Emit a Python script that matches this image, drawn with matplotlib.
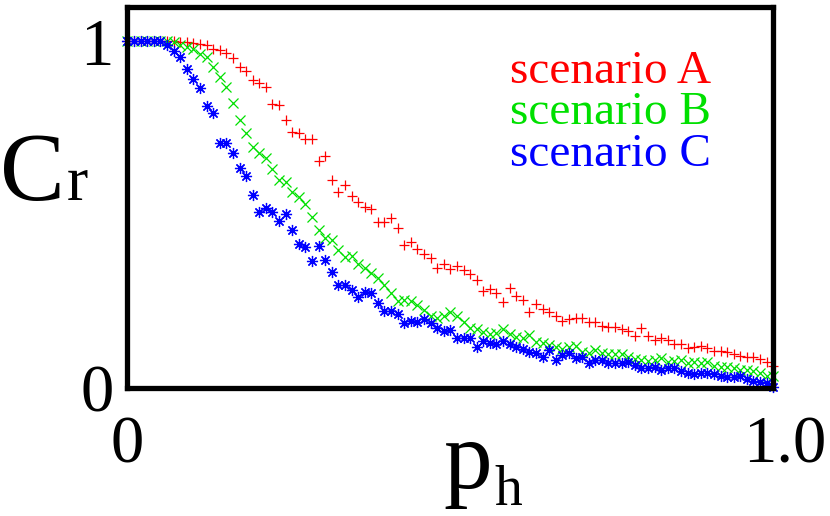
import numpy as np
import matplotlib
matplotlib.use("Agg")
import matplotlib.pyplot as plt
from matplotlib.transforms import ScaledTranslation

plt.rcParams['font.family'] = ['Liberation Serif', 'DejaVu Serif']

# values, p_h from 0 to 1
cr_a = [1.0, 1.0, 1.0, 1.0, 1.0, 1.0, 1.0, 1.0, 0.998, 0.997,
        0.995, 0.992, 0.990, 0.978, 0.975, 0.966, 0.952, 0.925, 0.913, 0.887,
        0.880, 0.869, 0.820, 0.815, 0.774, 0.739, 0.735, 0.719, 0.719, 0.653,
        0.668, 0.600, 0.566, 0.586, 0.553, 0.536, 0.522, 0.515, 0.477, 0.477,
        0.490, 0.461, 0.412, 0.420, 0.400, 0.386, 0.373, 0.344, 0.358, 0.343,
        0.350, 0.340, 0.329, 0.311, 0.278, 0.286, 0.272, 0.247, 0.288, 0.265,
        0.254, 0.217, 0.240, 0.228, 0.217, 0.206, 0.192, 0.199, 0.200, 0.202,
        0.188, 0.188, 0.177, 0.175, 0.175, 0.170, 0.164, 0.148, 0.171, 0.148,
        0.136, 0.142, 0.137, 0.125, 0.126, 0.113, 0.116, 0.121, 0.113, 0.105,
        0.105, 0.103, 0.097, 0.091, 0.087, 0.089, 0.081, 0.073, 0.062]

cr_b = [1.0, 1.0, 1.0, 1.0, 1.0, 1.0, 1.0, 0.997, 0.988, 0.983,
        0.978, 0.964, 0.954, 0.925, 0.898, 0.869, 0.822, 0.774, 0.736, 0.694,
        0.678, 0.664, 0.631, 0.598, 0.593, 0.565, 0.549, 0.531, 0.493, 0.456,
        0.433, 0.425, 0.398, 0.377, 0.380, 0.358, 0.345, 0.331, 0.315, 0.296,
        0.273, 0.250, 0.252, 0.249, 0.237, 0.224, 0.207, 0.202, 0.208, 0.219,
        0.208, 0.190, 0.171, 0.168, 0.161, 0.156, 0.158, 0.168, 0.156, 0.146,
        0.142, 0.151, 0.132, 0.129, 0.123, 0.118, 0.110, 0.118, 0.119, 0.104,
        0.101, 0.108, 0.099, 0.096, 0.097, 0.097, 0.087, 0.083, 0.080, 0.076,
        0.079, 0.084, 0.074, 0.076, 0.079, 0.072, 0.074, 0.070, 0.074, 0.062,
        0.058, 0.060, 0.055, 0.050, 0.050, 0.048, 0.043, 0.033, 0.033]

cr_c = [1.0, 1.0, 1.0, 1.0, 1.0, 1.0, 0.988, 0.973, 0.954, 0.920,
        0.892, 0.866, 0.812, 0.794, 0.706, 0.706, 0.677, 0.634, 0.611, 0.557,
        0.507, 0.518, 0.507, 0.480, 0.502, 0.454, 0.414, 0.406, 0.365, 0.409,
        0.368, 0.333, 0.295, 0.295, 0.281, 0.262, 0.276, 0.272, 0.245, 0.221,
        0.221, 0.211, 0.185, 0.193, 0.190, 0.199, 0.187, 0.172, 0.164, 0.166,
        0.144, 0.144, 0.142, 0.116, 0.134, 0.129, 0.125, 0.134, 0.127, 0.116,
        0.110, 0.103, 0.099, 0.089, 0.108, 0.079, 0.094, 0.101, 0.084, 0.087,
        0.072, 0.079, 0.079, 0.072, 0.072, 0.072, 0.074, 0.065, 0.057, 0.055,
        0.060, 0.052, 0.057, 0.055, 0.048, 0.043, 0.039, 0.043, 0.043, 0.039,
        0.033, 0.029, 0.031, 0.034, 0.026, 0.020, 0.017, 0.012, 0.002]

labels = ['scenario A', 'scenario B', 'scenario C']
colors = ['#ff0000', '#00e000', '#0000ff']
markers = ['+', 'x', (8, 2, 0)]
sizes = [7.5, 7, 8]

fig = plt.figure(figsize=(8.3, 5.16), dpi=100)
ax = fig.add_axes([0.1536, 0.249, 0.778, 0.738])

for vals, col, mk, ms in zip([cr_a, cr_b, cr_c], colors, markers, sizes):
    ph = np.linspace(0, 1, len(vals))
    ax.plot(ph, vals, linestyle='none', marker=mk, color=col,
            markersize=ms, markeredgewidth=0.9, clip_on=False)

ax.set_xlim(0, 1)
ax.set_ylim(0, 1.1)
for s in ax.spines.values():
    s.set_linewidth(3.8)
ax.set_xticks([0, 1])
ax.set_xticklabels(['0', '1.0'])
ax.set_yticks([0, 1])
ax.set_yticklabels(['0', '1'])
ax.tick_params(length=0, labelsize=48)
ax.tick_params(axis='x', pad=20)
ax.tick_params(axis='y', pad=10)
# gnuplot put the "1.0" a bit to the right
lab = ax.get_xticklabels()[1]
lab.set_transform(lab.get_transform() + ScaledTranslation(0.12, 0, fig.dpi_scale_trans))

# key, text only
key_y = [0.881, 0.760, 0.639]
for lab, col, y in zip(labels, colors, key_y):
    ax.text(0.593, y, lab, color=col, fontsize=34, ha='left', va='baseline')

# axis labels with hand placed subscripts
fig.text(0.0, 1 - 200 / 516, 'C', fontsize=70, ha='left', va='baseline')
fig.text(67 / 830, 1 - 200 / 516, 'r', fontsize=46, ha='left', va='baseline')
fig.text(443 / 830, 1 - 488 / 516, 'p', fontsize=70, ha='left', va='baseline')
fig.text(494 / 830, 1 - 505 / 516, 'h', fontsize=40, ha='left', va='baseline')

fig.savefig('out.png', dpi=100)
